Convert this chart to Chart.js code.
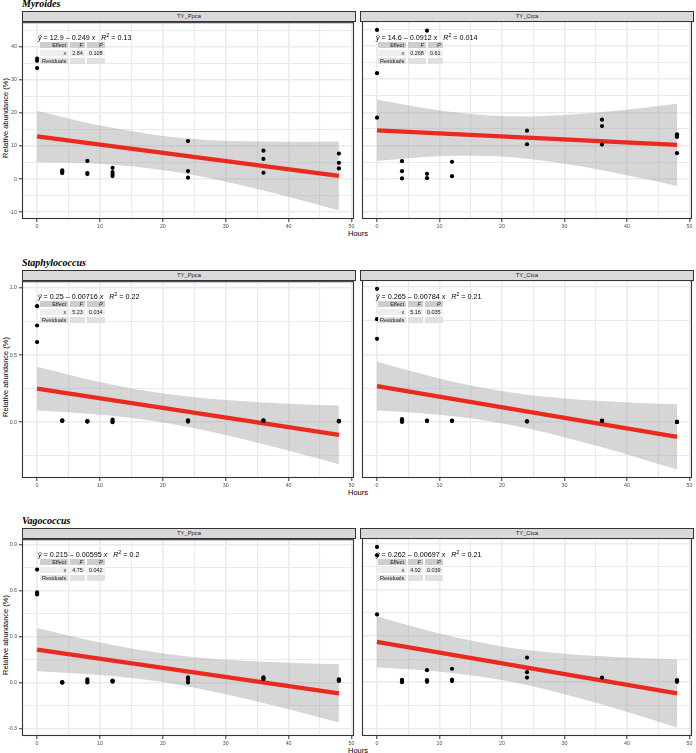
<!DOCTYPE html>
<html><head><meta charset="utf-8">
<script src="https://cdn.jsdelivr.net/npm/chart.js@4.4.1/dist/chart.umd.min.js"></script>
<style>
html,body{margin:0;padding:0;background:#fff}
body{position:relative;width:696px;height:753px;overflow:hidden;font-family:"Liberation Sans",Arial,sans-serif}
.abs{position:absolute}
canvas{position:absolute}
.title{font-family:"Liberation Serif","Times New Roman",serif;font-weight:bold;font-style:italic;font-size:10px;line-height:10px;white-space:nowrap;color:#000}
.strip{box-sizing:border-box;background:#d9d9d9;border:1px solid #333;font-size:5.8px;color:#1a1a1a;text-align:center;line-height:8px;z-index:2}
.ytitle{font-size:7.5px;color:#000;white-space:nowrap;transform:translate(-50%,-50%) rotate(-90deg)}
.xtitle{font-size:7.5px;color:#000;white-space:nowrap;transform:translate(-50%,-50%)}
.eq{font-size:7.2px;white-space:nowrap;transform:translateY(-50%);line-height:9px;color:#000;z-index:3}
.eq sup{font-size:5px;vertical-align:3px;line-height:0}
table.aov{position:absolute;border-collapse:separate;border-spacing:2px 2.5px;font-size:5.5px;line-height:6px;margin:0;z-index:3}
table.aov td{padding:0 2px;height:6px;text-align:right;color:#222;white-space:nowrap}
table.aov tr.h td{background:#cdcdcd}
table.aov tr.r1 td{background:#eeeeee}
table.aov tr.r2 td{background:#e0e0e0}
</style>
</head><body>
<script>
// ---------- data ----------
const xTickMajor = [0, 10, 20, 30, 40, 50];
const xTickMinor = [5, 15, 25, 35, 45];
const bandHours = [0, 6, 12, 18, 24, 30, 36, 42, 48];
const fitHours = [0, 48];

const genera = ["Myroides", "Staphylococcus", "Vagococcus"];
const facets = ["TY_Ppca", "TY_Ctca"];

// Myroides
const myrYMajor = [-10, 0, 10, 20, 30, 40];
const myrYMinor = [-5, 5, 15, 25, 35, 45];
const myrPpcaHours = [0,0,0,4,4,4,8,8,8,12,12,12,12,24,24,24,36,36,36,48,48,48];
const myrPpcaAbund = [36.5,35.8,33.6,2.6,2.2,1.8,5.5,1.8,1.5,3.4,2.1,1.5,0.9,11.5,2.4,0.4,8.6,6.1,1.9,7.7,4.9,3.2];
const myrPpcaFit = [12.9, 0.95];
const myrPpcaUpper = [20.7,17.9,15.5,13.6,12.3,11.6,11.4,11.3,11.4];
const myrPpcaLower = [5.1,4.9,4.3,3.2,1.5,-0.8,-3.5,-6.4,-9.5];
const myrCtcaHours = [0,0,0,4,4,4,8,8,8,12,12,24,24,36,36,36,48,48,48,48];
const myrCtcaAbund = [44.8,31.8,18.4,5.3,2.3,0.1,44.6,1.5,0.2,5.1,0.8,14.5,10.4,17.8,15.9,10.3,13.4,12.9,12.6,7.7];
const myrCtcaFit = [14.6, 10.22];
const myrCtcaUpper = [23.85,21.77,20.09,19.08,18.79,19.2,20.09,21.25,22.57];
const myrCtcaLower = [5.35,6.33,6.93,6.84,6.03,4.52,2.55,0.29,-2.13];

// Staphylococcus
const staYMajor = [0, 0.5, 1.0];
const staYMinor = [-0.25, 0.25, 0.75];
const staPpcaHours = [0,0,0,4,4,4,8,8,8,12,12,12,24,24,24,36,36,36,48,48,48];
const staPpcaAbund = [0.864,0.72,0.597,0.015,0.012,0.01,0.008,0.006,0.005,0.02,0.01,0.0,0.015,0.005,0.01,0.015,0.012,0.01,0.01,0.008,0.006];
const staPpcaFit = [0.25, -0.094];
const staPpcaUpper = [0.413,0.343,0.280,0.229,0.191,0.165,0.147,0.134,0.124];
const staPpcaLower = [0.087,0.071,0.048,0.013,-0.035,-0.095,-0.163,-0.236,-0.312];
const staCtcaHours = [0,0,0,4,4,4,8,8,8,12,12,12,24,24,24,36,36,36,48,48,48];
const staCtcaAbund = [0.985,0.76,0.615,0.02,0.01,0.0,0.01,0.008,0.006,0.01,0.008,0.006,0.005,0.004,0.003,0.01,0.008,0.006,0.0,0.0,0.0];
const staCtcaFit = [0.265, -0.111];
const staCtcaUpper = [0.445,0.369,0.299,0.243,0.201,0.173,0.154,0.140,0.130];
const staCtcaLower = [0.085,0.068,0.043,0.005,-0.047,-0.113,-0.188,-0.268,-0.352];

// Vagococcus
const vagYMajor = [-0.3, 0, 0.3, 0.6, 0.9];
const vagYMinor = [-0.15, 0.15, 0.45, 0.75];
const vagPpcaHours = [0,0,0,4,4,4,8,8,8,12,12,12,24,24,24,36,36,36,48,48,48];
const vagPpcaAbund = [0.738,0.589,0.576,0.0,0.0,0.0,0.02,0.01,0.0,0.013,0.005,0.01,0.033,0.017,0.0,0.033,0.022,0.028,0.02,0.01,0.015];
const vagPpcaFit = [0.215, -0.071];
const vagPpcaUpper = [0.357,0.298,0.245,0.202,0.170,0.149,0.136,0.126,0.119];
const vagPpcaLower = [0.073,0.060,0.043,0.014,-0.026,-0.077,-0.134,-0.196,-0.261];
const vagCtcaHours = [0,0,0,4,4,4,8,8,8,12,12,12,24,24,24,36,48,48,48];
const vagCtcaAbund = [0.879,0.825,0.44,0.015,0.007,0.0,0.078,0.013,0.002,0.087,0.017,0.007,0.16,0.065,0.03,0.03,0.013,0.002,0.008];
const vagCtcaFit = [0.262, -0.073];
const vagCtcaUpper = [0.428,0.358,0.296,0.247,0.209,0.185,0.168,0.157,0.148];
const vagCtcaLower = [0.096,0.082,0.060,0.027,-0.019,-0.079,-0.146,-0.219,-0.294];

// equation / anova labels
const eqIntercepts = [["12.9","14.6"],["0.25","0.265"],["0.215","0.262"]];
const eqSlopes = [["0.249","0.0912"],["0.00716","0.00784"],["0.00595","0.00697"]];
const eqR2 = [["0.13","0.014"],["0.22","0.21"],["0.2","0.21"]];
const anovaF = [["2.84","0.268"],["5.23","5.16"],["4.75","4.92"]];
const anovaP = [["0.108","0.61"],["0.034","0.035"],["0.042","0.039"]];

const yRanges = [[-12.1, 47.5], [-0.415, 1.05], [-0.35, 0.937]];
const xRange = [-2.4, 50.4];

// ---------- layout ----------
const colLeft = [22, 360], colRight = [356, 694];
const panelTops = [21, 280, 538];
const panelH = 198;
const stripH = 10;

const rowsData = [
  {ymaj: myrYMajor, ymin: myrYMinor, dec: 0, p: [
    [myrPpcaHours, myrPpcaAbund, myrPpcaFit, myrPpcaUpper, myrPpcaLower],
    [myrCtcaHours, myrCtcaAbund, myrCtcaFit, myrCtcaUpper, myrCtcaLower]]},
  {ymaj: staYMajor, ymin: staYMinor, dec: 1, p: [
    [staPpcaHours, staPpcaAbund, staPpcaFit, staPpcaUpper, staPpcaLower],
    [staCtcaHours, staCtcaAbund, staCtcaFit, staCtcaUpper, staCtcaLower]]},
  {ymaj: vagYMajor, ymin: vagYMinor, dec: 1, p: [
    [vagPpcaHours, vagPpcaAbund, vagPpcaFit, vagPpcaUpper, vagPpcaLower],
    [vagCtcaHours, vagCtcaAbund, vagCtcaFit, vagCtcaUpper, vagCtcaLower]]}
];

function isIn(list, v){ return list.some(m => Math.abs(m - v) < 1e-9); }
function el(tag, cls, css, html){
  const e = document.createElement(tag);
  if (cls) e.className = cls;
  Object.assign(e.style, css);
  if (html !== undefined) e.innerHTML = html;
  document.body.appendChild(e);
  return e;
}

const borderPlugin = {
  id: 'panelBorder',
  afterDraw(chart){
    const a = chart.chartArea, ctx = chart.ctx;
    ctx.save();
    ctx.strokeStyle = '#333';
    ctx.lineWidth = 1.1;
    ctx.strokeRect(a.left + 0.5, a.top + 0.5, a.right - a.left - 1, a.bottom - a.top - 1);
    ctx.restore();
  }
};

rowsData.forEach((row, r) => {
  const pt = panelTops[r];
  // genus title
  el('div', 'abs title', {left: '22px', top: (pt - stripH - 12.5) + 'px'}, genera[r]);
  // y title
  el('div', 'abs ytitle', {left: '4.5px', top: (pt + panelH / 2 - 2) + 'px'}, 'Relative abundance (%)');
  // x title
  el('div', 'abs xtitle', {left: '358px', top: (pt + panelH + 13.5) + 'px'}, 'Hours');

  [0, 1].forEach(c => {
    const [hx, hy, fit, up, lo] = row.p[c];
    const pl = colLeft[c], pr = colRight[c];
    // strip
    el('div', 'abs strip', {left: pl + 'px', top: (pt - stripH) + 'px', width: (pr - pl) + 'px', height: (stripH + 1) + 'px'}, facets[c]);

    const canvLeft = c === 0 ? 0 : 358;
    const canvW = c === 0 ? 358 : 338;
    const yW = pl - canvLeft;
    const canvTop = pt - 4;
    const canvH = panelH + 4 + 14;
    const cv = document.createElement('canvas');
    cv.width = canvW; cv.height = canvH;
    cv.style.left = canvLeft + 'px'; cv.style.top = canvTop + 'px';
    cv.style.width = canvW + 'px'; cv.style.height = canvH + 'px';
    document.body.appendChild(cv);

    const yAll = row.ymaj.concat(row.ymin);
    const xAll = xTickMajor.concat(xTickMinor);

    new Chart(cv, {
      type: 'scatter',
      data: {
        datasets: [
          { // points
            data: hx.map((x, i) => ({x: x, y: hy[i]})),
            pointRadius: 2.1, pointBackgroundColor: '#000', pointBorderWidth: 0,
            showLine: false
          },
          { // fitted line
            data: fitHours.map((x, i) => ({x: x, y: fit[i]})),
            showLine: true, borderColor: '#ea2a1f', borderWidth: 4.2, pointRadius: 0,
            borderCapStyle: 'butt'
          },
          { // upper band
            data: bandHours.map((x, i) => ({x: x, y: up[i]})),
            showLine: true, borderWidth: 0, borderColor: 'rgba(0,0,0,0)', pointRadius: 0,
            cubicInterpolationMode: 'monotone',
            fill: '+1', backgroundColor: 'rgba(153,153,153,0.4)'
          },
          { // lower band
            data: bandHours.map((x, i) => ({x: x, y: lo[i]})),
            showLine: true, borderWidth: 0, borderColor: 'rgba(0,0,0,0)', pointRadius: 0,
            cubicInterpolationMode: 'monotone', fill: false
          }
        ]
      },
      options: {
        responsive: false, maintainAspectRatio: false, animation: false,
        devicePixelRatio: 1, events: [],
        layout: {padding: {left: 0, top: 4, right: 2, bottom: 0}},
        plugins: {legend: {display: false}, tooltip: {enabled: false}, title: {display: false}},
        scales: {
          x: {
            type: 'linear', min: xRange[0], max: xRange[1],
            afterBuildTicks: s => { s.ticks = xAll.map(v => ({value: v})); },
            afterFit: s => { s.height = 14; },
            border: {display: false},
            grid: {
              color: '#ebebeb',
              lineWidth: ctx => isIn(xTickMajor, ctx.tick.value) ? 1.6 : 1.1,
              tickColor: ctx => isIn(xTickMajor, ctx.tick.value) ? '#333' : 'rgba(0,0,0,0)',
              tickLength: 3, tickWidth: 1, drawTicks: true
            },
            ticks: {
              autoSkip: false, maxRotation: 0, padding: 1,
              color: '#4d4d4d', font: {family: 'Liberation Sans', size: 5.3},
              callback: v => isIn(xTickMajor, v) ? String(Math.round(v)) : ''
            }
          },
          y: {
            type: 'linear', min: yRanges[r][0], max: yRanges[r][1],
            afterBuildTicks: s => { s.ticks = yAll.map(v => ({value: v})); },
            afterFit: s => { s.width = yW; },
            border: {display: false},
            grid: {
              color: '#ebebeb',
              lineWidth: ctx => isIn(row.ymaj, ctx.tick.value) ? 1.6 : 1.1,
              tickColor: ctx => (c === 0 && isIn(row.ymaj, ctx.tick.value)) ? '#333' : 'rgba(0,0,0,0)',
              tickLength: c === 0 ? 3 : 0, tickWidth: 1, drawTicks: c === 0
            },
            ticks: {
              display: c === 0, autoSkip: false, padding: 2,
              color: '#4d4d4d', font: {family: 'Liberation Sans', size: 5.3},
              callback: v => isIn(row.ymaj, v) ? (Math.abs(v) < 1e-9 ? (row.dec ? '0.0' : '0') : v.toFixed(row.dec)) : ''
            }
          }
        }
      },
      plugins: [borderPlugin]
    });

    // equation label
    const eq = '<i>ŷ</i> = ' + eqIntercepts[r][c] + ' – ' + eqSlopes[r][c] + ' <i>x</i>&nbsp;&nbsp; <i>R</i><sup>2</sup> = ' + eqR2[r][c];
    el('div', 'abs eq', {left: (pl + 16) + 'px', top: (pt + 15.5) + 'px'}, eq);
    // anova table
    const t = el('table', 'aov', {left: (pl + 16) + 'px', top: (pt + 19.3) + 'px'});
    t.innerHTML = '<tr class="h"><td>Effect</td><td><i>F</i></td><td><i>P</i></td></tr>' +
      '<tr class="r1"><td>x</td><td>' + anovaF[r][c] + '</td><td>' + anovaP[r][c] + '</td></tr>' +
      '<tr class="r2"><td style="text-align:left">Residuals</td><td></td><td></td></tr>';
  });
});
</script>
</body></html>
